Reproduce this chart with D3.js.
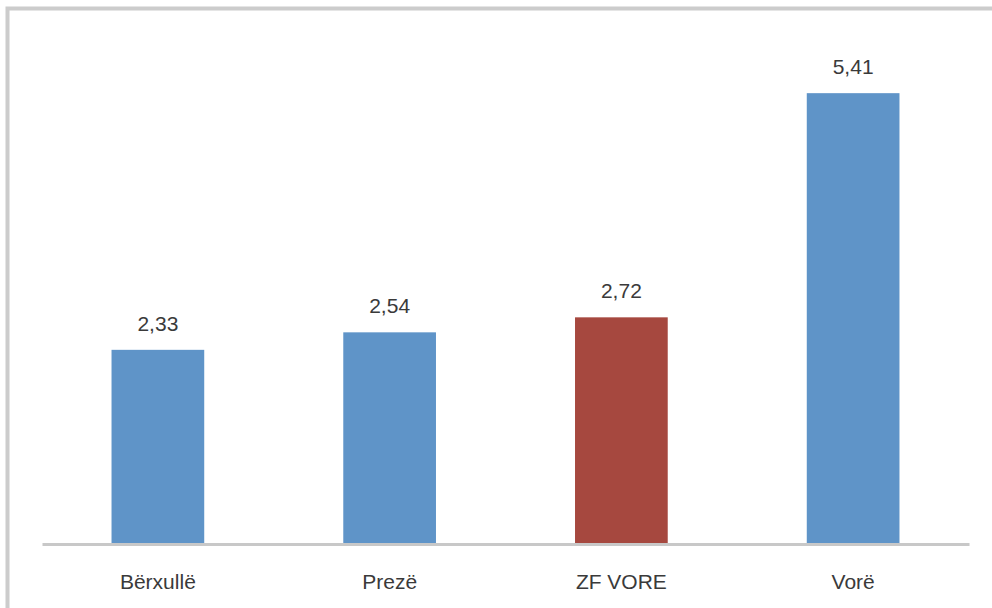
<!DOCTYPE html>
<html><head><meta charset="utf-8">
<script src="https://cdn.jsdelivr.net/npm/d3@7"></script>
<style>html,body{margin:0;padding:0;background:#fff;}svg{display:block;}</style>
</head><body>
<svg id="chart" width="992" height="608"></svg>
<script>
const categories = ["Bërxullë", "Prezë", "ZF VORE", "Vorë"];
const values = [2.33, 2.54, 2.72, 5.41];
const barColors = ["#5F94C8", "#5F94C8", "#A6483F", "#5F94C8"];
const valueLabels = ["2,33", "2,54", "2,72", "5,41"];

const svg = d3.select("#chart");
const font = "'Liberation Sans', Arial, sans-serif";

// outer border (top and left visible)
svg.append("path").attr("d", "M7.5,608 L7.5,8.5 L992,8.5")
  .attr("fill", "none").attr("stroke", "#cccccc").attr("stroke-width", 4);

const x = d3.scaleBand().domain(categories).range([42, 969]).paddingInner(0.6).paddingOuter(0.3);
const y = d3.scaleLinear().domain([0, 6]).range([544, 44]);

svg.selectAll("rect.bar").data(values).join("rect")
  .attr("class", "bar")
  .attr("x", (d, i) => x(categories[i]))
  .attr("y", d => y(d))
  .attr("width", x.bandwidth())
  .attr("height", d => y(0) - y(d))
  .attr("fill", (d, i) => barColors[i]);

// axis baseline
const axis = d3.axisBottom(x).tickSize(0).tickPadding(30);
const g = svg.append("g").attr("transform", `translate(0,${y(0)})`).call(axis);
g.select(".domain").attr("stroke", "#c8c8c8").attr("stroke-width", 3);
g.selectAll("text").attr("font-family", font).attr("font-size", 21).attr("fill", "#3a3a3a");

svg.selectAll("text.val").data(values).join("text")
  .attr("class", "val")
  .attr("x", (d, i) => x(categories[i]) + x.bandwidth() / 2)
  .attr("y", d => y(d) - 19)
  .attr("text-anchor", "middle")
  .attr("font-family", font).attr("font-size", 21).attr("fill", "#3a3a3a")
  .text((d, i) => valueLabels[i]);
</script>
</body></html>
